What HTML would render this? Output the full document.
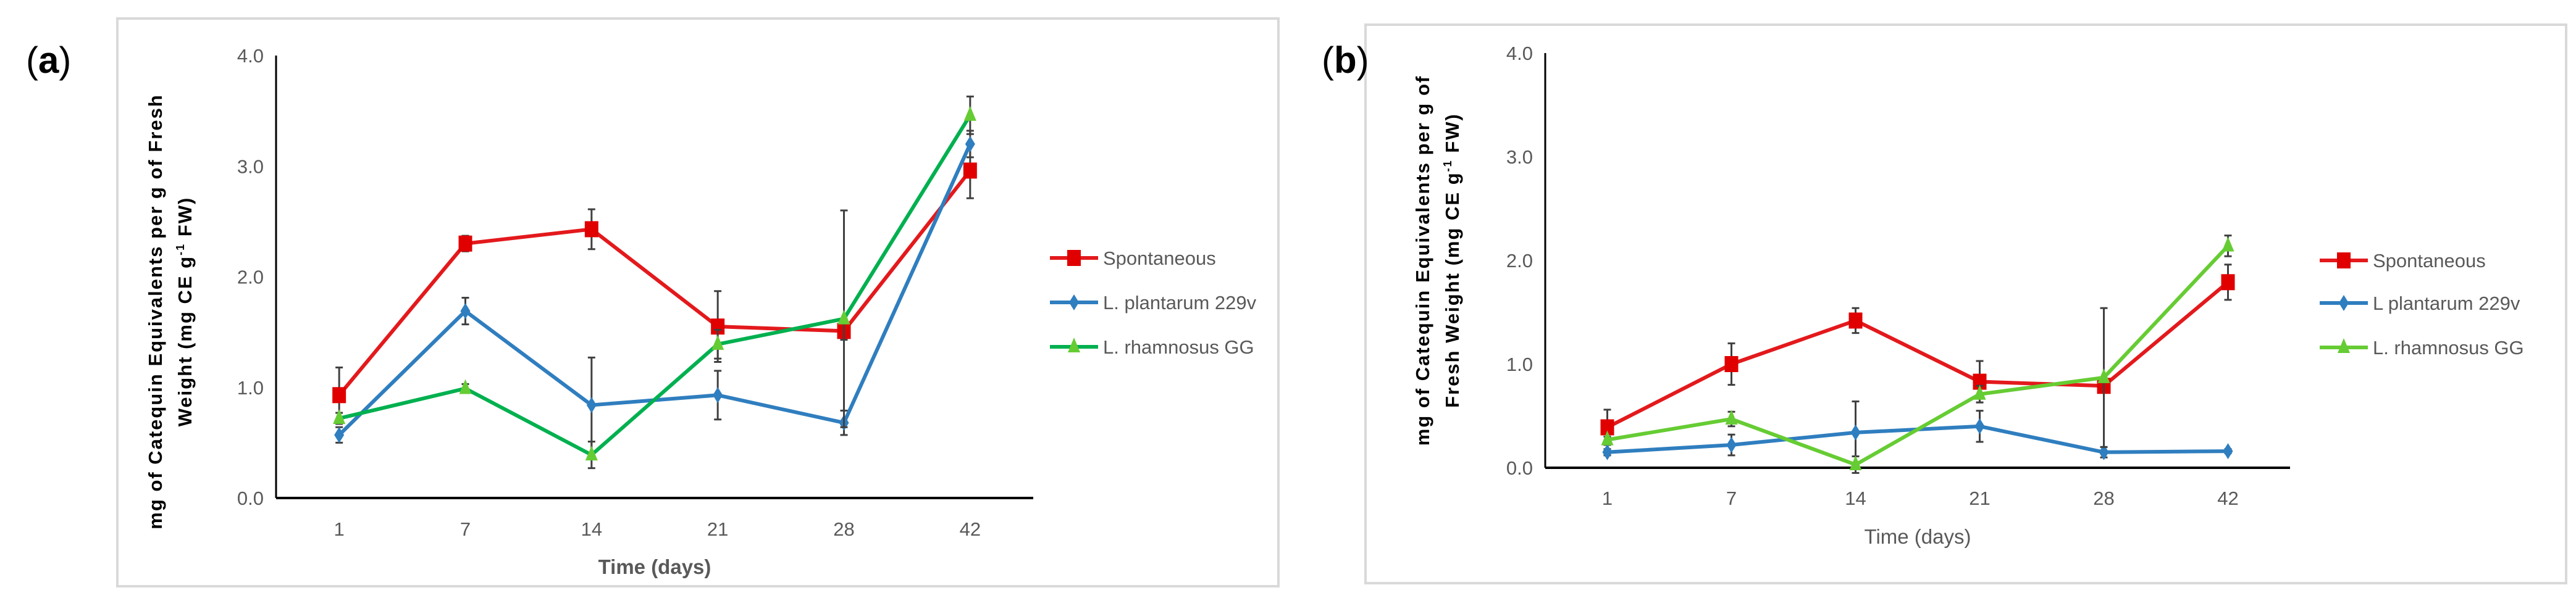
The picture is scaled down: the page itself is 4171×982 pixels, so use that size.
<!DOCTYPE html>
<html><head><meta charset="utf-8"><style>
html,body{margin:0;padding:0;background:#fff;}
svg{display:block;}
text{font-family:"Liberation Sans",sans-serif;}
</style></head><body>
<svg id="fig" width="4171" height="982" viewBox="0 0 4171 982" xmlns="http://www.w3.org/2000/svg">
<g id="pa"></g>
<g id="pb"></g>
</svg>
<script>
const categories = ["1","7","14","21","28","42"];
const yTicks = [0,1,2,3,4];
const seriesNames = ["Spontaneous","L. plantarum 229v","L. rhamnosus GG"];
const seriesNamesB = ["Spontaneous","L plantarum 229v","L. rhamnosus GG"];
const aSpont = [0.93,2.30,2.43,1.55,1.51,2.96];
const aSpontErr = [0.25,0.07,0.18,0.32,0.08,0.25];
const aPlant = [0.57,1.69,0.84,0.93,0.68,3.20];
const aPlantErr = [0.07,0.12,0.43,0.22,0.11,0.12];
const aRham = [0.72,0.99,0.39,1.39,1.62,3.46];
const aRhamErr = [0.05,0.04,0.12,0.13,0.98,0.17];
const bSpont = [0.39,1.00,1.42,0.83,0.79,1.79];
const bSpontErr = [0.17,0.20,0.12,0.20,0.05,0.17];
const bPlant = [0.15,0.22,0.34,0.40,0.15,0.16];
const bPlantErr = [0.03,0.10,0.30,0.15,0.05,0.02];
const bRham = [0.27,0.47,0.03,0.71,0.87,2.14];
const bRhamErr = [0.03,0.07,0.08,0.08,0.67,0.10];

const NS="http://www.w3.org/2000/svg";
function mk(parent,tag,attrs,txt){const e=document.createElementNS(NS,tag);for(const k in attrs)e.setAttribute(k,attrs[k]);if(txt!==undefined)e.textContent=txt;parent.appendChild(e);return e;}

function marker(g,type,x,y,fill){
  let m;
  if(type==="sq"){m=mk(g,"rect",{x:x-11,y:y-13,width:22,height:26,fill:fill});}
  else if(type==="di"){m=mk(g,"polygon",{points:`${x},${y-13} ${x+8},${y} ${x},${y+13} ${x-8},${y}`,fill:fill});}
  else {m=mk(g,"polygon",{points:`${x},${y-15} ${x+10},${y+9} ${x-10},${y+9}`,fill:fill});}
  return m;
}

function panel(g,cfg){
  const {fx,fy,fw,fh,x0,x1,y0,y1,label,lx,ly,titleLines,tx1,tx2,tcy,xtY,xtBold,legX,legY,series,names}=cfg;
  const fr=mk(g,"rect",{x:fx,y:fy,width:fw,height:fh,fill:"#fff",stroke:"#d9d9d9","stroke-width":4});
  
  
  const lab=mk(g,"text",{x:lx,y:ly,"font-family":"Liberation Serif,serif","font-size":60},"");
  
  
  mk(lab,"tspan",{},"(");mk(lab,"tspan",{"font-weight":"bold"},label);mk(lab,"tspan",{},")");
  const n=categories.length, bw=(x1-x0)/n;
  const xs=i=>x0+(i+0.5)*bw;
  const ys=v=>y0-(v/4)*(y0-y1);
  const yax=mk(g,"line",{x1:x0,y1:y1,x2:x0,y2:y0,stroke:"#000","stroke-width":3});
  
  
  const xax=mk(g,"line",{x1:x0,y1:y0,x2:x1,y2:y0,stroke:"#000","stroke-width":4});
  
  
  yTicks.forEach(t=>{
    const e=mk(g,"text",{x:x0-20,y:ys(t)+11,"text-anchor":"end","font-size":31,fill:"#595959"},t.toFixed(1));
    
    
  });
  categories.forEach((c,i)=>{
    const e=mk(g,"text",{x:xs(i),y:xtY,"text-anchor":"middle","font-size":31,fill:"#595959"},c);
    
    
  });
  const xt=mk(g,"text",{x:(x0+x1)/2,y:cfg.xTitleY,"text-anchor":"middle","font-size":33,fill:"#595959","font-weight":xtBold?"bold":"normal"},"Time (days)");
  
  
  const yt=mk(g,"g",{});
  
  
  [tx1,tx2].forEach((tx,k)=>{
    const t=mk(yt,"text",{x:tx,y:tcy,"text-anchor":"middle","font-family":"DejaVu Sans,sans-serif","font-weight":"bold","font-size":31,"letter-spacing":2,fill:"#000",transform:`rotate(-90 ${tx} ${tcy})`});
    const line=titleLines[k];
    if(line.indexOf("g-1")>=0){
      const p=line.split("g-1");
      mk(t,"tspan",{},p[0]+"g");mk(t,"tspan",{dy:-12,"font-size":18},"-1");mk(t,"tspan",{dy:12},p[1]);
    } else t.textContent=line;
  });
  series.forEach((s,si)=>{
    const sg=mk(g,"g",{});
    
    
    s.vals.forEach((v,i)=>{
      const x=xs(i),e=s.err[i];
      const eb=mk(sg,"path",{d:`M${x},${ys(v+e)}V${ys(v-e)}M${x-6},${ys(v+e)}H${x+6}M${x-6},${ys(v-e)}H${x+6}`,stroke:"#404040","stroke-width":3,fill:"none"});
      
      
    });
    const pl=mk(sg,"polyline",{points:s.vals.map((v,i)=>`${xs(i)},${ys(v)}`).join(" "),fill:"none",stroke:s.line,"stroke-width":6,"stroke-linejoin":"round"});
    
    
    s.vals.forEach((v,i)=>{
      const m=marker(sg,s.mk,xs(i),ys(v),s.fill);
      
      
    });
    const lg=mk(g,"g",{});
    
    
    const ly2=legY[si];
    mk(lg,"line",{x1:legX,y1:ly2,x2:legX+78,y2:ly2,stroke:s.line,"stroke-width":6});
    marker(lg,s.mk,legX+39,ly2,s.fill);
    mk(lg,"text",{x:legX+86,y:ly2+11,"font-size":31,fill:"#595959"},names[si]);
  });
}

panel(document.getElementById("pa"),{fx:190,fy:30,fw:1880,fh:920,x0:447,x1:1673,y0:807,y1:90,label:"a",lx:42,ly:118,
  titleLines:["mg of Catequin Equivalents per g of Fresh","Weight (mg CE g-1 FW)"],tx1:262,tx2:310,tcy:505,xtY:868,xTitleY:930,xtBold:true,
  legX:1700,legY:[418,490,562],names:seriesNames,
  series:[{key:"spontaneous",vals:aSpont,err:aSpontErr,line:"#e3191c",fill:"#e00000",mk:"sq"},
          {key:"plantarum",vals:aPlant,err:aPlantErr,line:"#2f7ebf",fill:"#2f7ebf",mk:"di"},
          {key:"rhamnosus",vals:aRham,err:aRhamErr,line:"#00b04f",fill:"#66cc33",mk:"tr"}]});
panel(document.getElementById("pb"),{fx:2211,fy:40,fw:1944,fh:905,x0:2502,x1:3708,y0:758,y1:86,label:"b",lx:2140,ly:118,
  titleLines:["mg of Catequin Equivalents per g of","Fresh Weight (mg CE g-1 FW)"],tx1:2314,tx2:2362,tcy:422,xtY:818,xTitleY:881,xtBold:false,
  legX:3756,legY:[422,491,563],names:seriesNamesB,
  series:[{key:"spontaneous",vals:bSpont,err:bSpontErr,line:"#e3191c",fill:"#e00000",mk:"sq"},
          {key:"plantarum",vals:bPlant,err:bPlantErr,line:"#2f7ebf",fill:"#2f7ebf",mk:"di"},
          {key:"rhamnosus",vals:bRham,err:bRhamErr,line:"#66cc33",fill:"#66cc33",mk:"tr"}]});
</script>
</body></html>
